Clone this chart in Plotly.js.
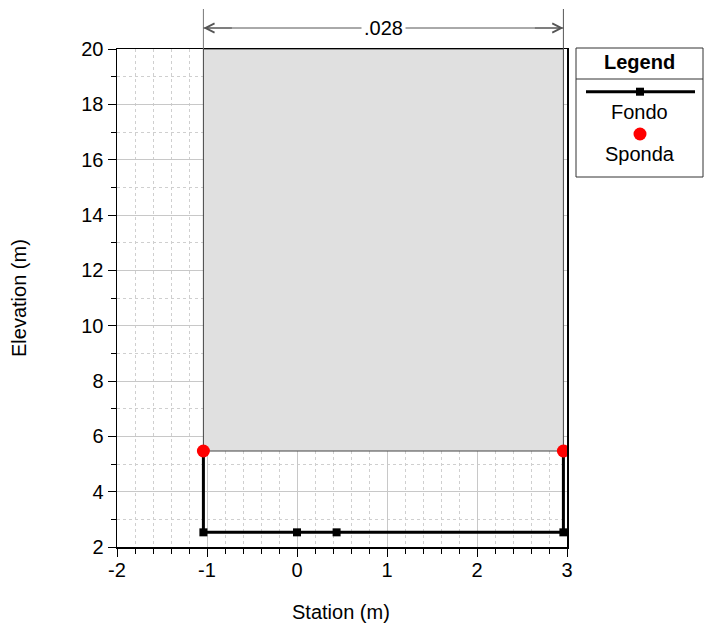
<!DOCTYPE html>
<html>
<head>
<meta charset="utf-8">
<script src="https://cdn.plot.ly/plotly-3.0.1.min.js"></script>
<style>html,body{margin:0;padding:0;background:#fff;}#chart{width:712px;height:629px;}</style>
</head>
<body>
<div id="chart"></div>
<script>
// Data
const fondoStation = [-1.04, -1.04, 0, 0.44, 2.96, 2.96];
const fondoElev = [5.47, 2.53, 2.53, 2.53, 2.53, 5.47];
const spondaStation = [-1.04, 2.96];
const spondaElev = [5.47, 5.47];
const manningLabel = ".028";
const manningTop = 20;
const xTicks = [-2, -1, 0, 1, 2, 3];
const yTicks = [2, 4, 6, 8, 10, 12, 14, 16, 18, 20];

const FONT = "Liberation Sans, Arial, sans-serif";
const FS = 20;
const L = 117, R = 145, T = 49, B = 82, W = 712, H = 629;
const pw = W - L - R, ph = H - T - B;
const px = v => (v - L) / pw;
const py = v => (H - B - v) / ph;

const x0 = spondaStation[0], x1 = spondaStation[1];
const xmid = (x0 + x1) / 2;
const arrowY = py(28);

const traces = [
  {x: fondoStation, y: fondoElev, mode: 'lines+markers', name: 'Fondo',
   line: {color: '#000', width: 3}, marker: {symbol: 'square', size: 8, color: '#000'}, showlegend: false, hoverinfo: 'x+y'},
  {x: spondaStation, y: spondaElev, mode: 'markers', name: 'Sponda',
   marker: {symbol: 'circle', size: 13, color: '#ff0000'}, showlegend: false, hoverinfo: 'x+y'}
];

const shapes = [
  {type: 'rect', xref: 'x', yref: 'y', x0: x0, x1: x1, y0: spondaElev[0], y1: manningTop,
   fillcolor: '#e0e0e0', line: {color: '#444', width: 1}, layer: 'between'},
  {type: 'line', xref: 'x', yref: 'paper', x0: x0, x1: x0, y0: 1, y1: py(9), line: {color: '#777', width: 1}},
  {type: 'line', xref: 'x', yref: 'paper', x0: x1, x1: x1, y0: 1, y1: py(9), line: {color: '#555', width: 1}},
  {type: 'line', xref: 'x', yref: 'paper', x0: x0, x1: x1, y0: arrowY, y1: arrowY, line: {color: '#555', width: 1}},
  {type: 'rect', xref: 'paper', yref: 'paper', x0: px(576), x1: px(703), y0: py(177), y1: py(48),
   fillcolor: '#fff', line: {color: '#333', width: 1}},
  {type: 'line', xref: 'paper', yref: 'paper', x0: px(576), x1: px(703), y0: py(79), y1: py(79), line: {color: '#333', width: 1}},
  {type: 'line', xref: 'paper', yref: 'paper', x0: px(586), x1: px(695), y0: py(91.7), y1: py(91.7), line: {color: '#000', width: 3}},
  {type: 'rect', xref: 'paper', yref: 'paper', x0: px(636), x1: px(644), y0: py(95.7), y1: py(87.7),
   fillcolor: '#000', line: {width: 0}},
  {type: 'circle', xref: 'paper', yref: 'paper', x0: px(633.5), x1: px(646.5), y0: py(140.5), y1: py(127.5),
   fillcolor: '#ff0000', line: {width: 0}}
];

function txt(x, y, text, extra) {
  return Object.assign({xref: 'paper', yref: 'paper', x: x, y: y, text: text, showarrow: false,
    xanchor: 'center', yanchor: 'middle', font: {family: FONT, size: FS, color: '#000'}}, extra || {});
}

const annotations = [
  {xref: 'x', yref: 'paper', x: xmid, y: arrowY, text: manningLabel, showarrow: false,
   xanchor: 'center', yanchor: 'middle',
   bgcolor: '#fff', font: {family: FONT, size: FS, color: '#000'}, borderpad: 2},
  {xref: 'x', yref: 'paper', x: x0, y: arrowY, text: '', showarrow: true, ax: 30, ay: 0,
   arrowhead: 5, arrowsize: 1.8, arrowwidth: 1, arrowcolor: '#555', standoff: 0},
  {xref: 'x', yref: 'paper', x: x1, y: arrowY, text: '', showarrow: true, ax: -30, ay: 0,
   arrowhead: 5, arrowsize: 1.8, arrowwidth: 1, arrowcolor: '#555', standoff: 0},
  txt(px(639.5), py(62), '<b>Legend</b>'),
  txt(px(639.5), py(112), 'Fondo'),
  txt(px(639.5), py(154), 'Sponda'),
  txt(px(341), py(612), 'Station (m)'),
  txt(px(19), py(298), 'Elevation (m)', {textangle: -90})
];

const minorDash = '3px,3px';

const layout = {
  width: W, height: H,
  margin: {l: L, r: R, t: T, b: B, pad: 0},
  paper_bgcolor: '#fff', plot_bgcolor: '#fff',
  font: {family: FONT, size: FS, color: '#000'},
  showlegend: false,
  xaxis: {
    range: [-2, 3], tickvals: xTicks, ticktext: xTicks.map(String),
    showgrid: true, gridcolor: '#c8c8c8', gridwidth: 1, zeroline: false,
    showline: true, linecolor: '#000', linewidth: 1.5, mirror: true,
    ticks: 'outside', ticklen: 8, tickcolor: '#000', tickwidth: 1,
    ticklabelstandoff: -4,
    tickfont: {family: FONT, size: FS, color: '#000'},
    minor: {dtick: 0.2, tick0: 0, showgrid: true, gridcolor: '#cfcfcf', griddash: minorDash, gridwidth: 1,
            ticks: 'outside', ticklen: 5, tickcolor: '#000'}
  },
  yaxis: {
    range: [2, 20], tickvals: yTicks, ticktext: yTicks.map(String),
    showgrid: true, gridcolor: '#c8c8c8', gridwidth: 1, zeroline: false,
    showline: true, linecolor: '#000', linewidth: 1.5, mirror: true,
    ticks: 'outside', ticklen: 8, tickcolor: '#000', tickwidth: 1,
    tickfont: {family: FONT, size: FS, color: '#000'},
    minor: {dtick: 1, tick0: 0, showgrid: true, gridcolor: '#cfcfcf', griddash: minorDash, gridwidth: 1,
            ticks: 'outside', ticklen: 5, tickcolor: '#000'}
  },
  shapes: shapes,
  annotations: annotations
};

Plotly.newPlot('chart', traces, layout, {displayModeBar: false, staticPlot: true});
</script>
</body>
</html>
